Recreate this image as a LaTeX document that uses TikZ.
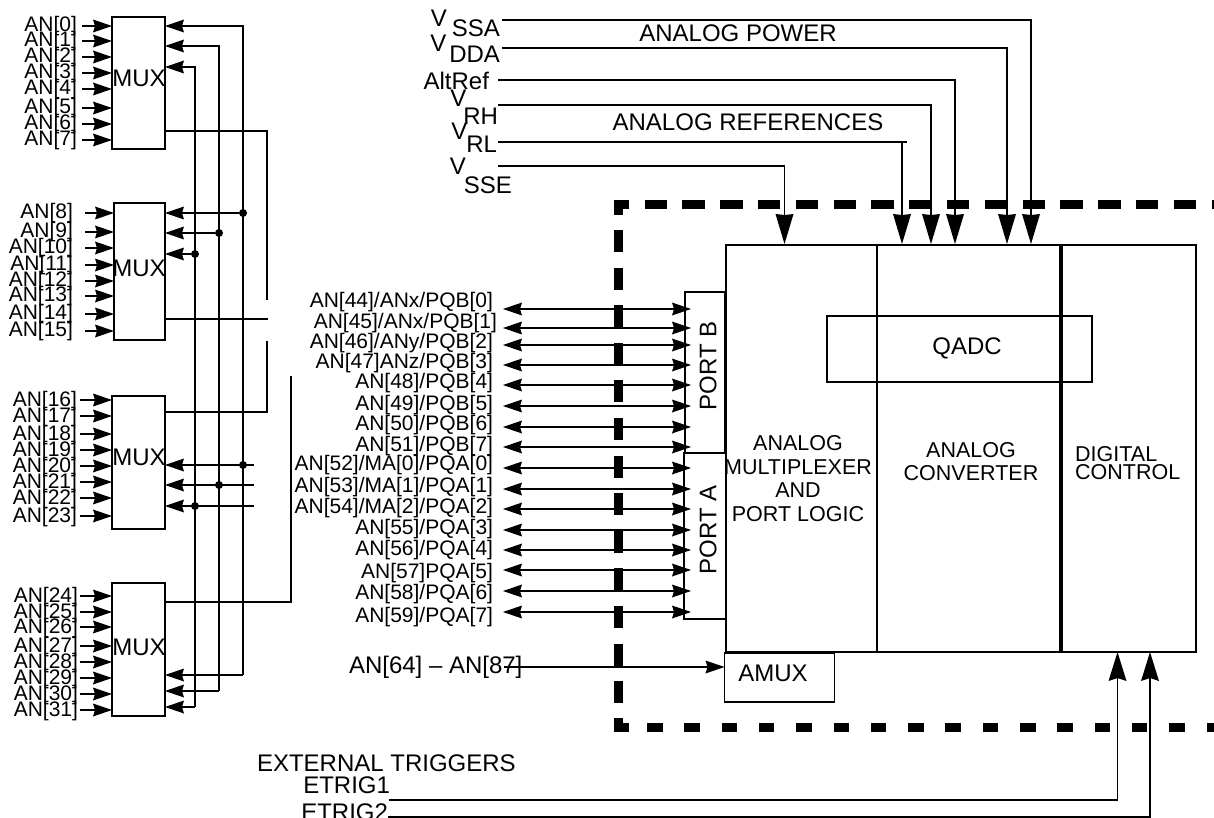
\documentclass[tikz,border=0pt]{standalone}
\usepackage{fontspec}
\setmainfont{Liberation Sans}
\usetikzlibrary{arrows.meta}
\tikzset{
  box/.style={draw,line width=1.7pt,rectangle,outer sep=0pt,inner sep=0pt,anchor=north west},
  wire/.style={draw,line width=1.6pt,line cap=butt},
  thinwire/.style={draw,line width=1.3pt},
  smallarrow/.style={wire,-{Stealth[length=19pt,width=13pt,inset=2pt,line width=0pt]}},
  dblarrow/.style={wire,{Stealth[length=19pt,width=13pt,inset=2pt,line width=0pt]}-{Stealth[length=19pt,width=13pt,inset=2pt,line width=0pt]}},
  downarrow/.style={thinwire,-{Stealth[length=30pt,width=18pt,inset=1pt,line width=0pt]}},
  uparrow/.style={thinwire,-{Stealth[length=29pt,width=18pt,inset=3pt,line width=0pt]}},
  lbl/.style={font=\fontsize{21}{22}\selectfont,inner sep=0pt,outer sep=0pt,anchor=east},
  muxlbl/.style={font=\fontsize{24}{26}\selectfont,inner sep=0pt},
  txt/.style={font=\fontsize{24}{26}\selectfont,inner sep=0pt,outer sep=0pt},
  blocktxt/.style={font=\fontsize{21.5}{23.7}\selectfont,inner sep=0pt,align=center},
  junction/.style={circle,fill=black,inner sep=0pt,minimum size=8pt},
  bdash/.style={draw,line width=8.7pt}
}
\begin{document}
\begin{tikzpicture}[x=1pt,y=-1pt]
\useasboundingbox (0,0) rectangle (1214,818);
% dashed boundary
\draw[bdash,dash pattern=on 22.4pt off 15.4pt] (644.5,204.5) -- (1230,204.5);
\fill (614,200) rectangle (629,209);
\fill (614,209) rectangle (623,215);
\draw[bdash,dash pattern=on 22pt off 15.6pt] (618.5,230) -- (618.5,718);
\fill (614,718) rectangle (623,732);
\fill (614,723) rectangle (629,732);
\draw[bdash,line width=8.5pt,dash pattern=on 15.5pt off 21.8pt] (647,727.5) -- (1230,727.5);
% MUX boxes
\node[box,minimum width=53pt,minimum height=132pt] (m1) at (112,17) {};
\node[box,minimum width=51pt,minimum height=137pt] (m2) at (114,203) {};
\node[box,minimum width=53pt,minimum height=133pt] (m3) at (112,396) {};
\node[box,minimum width=53pt,minimum height=133pt] (m4) at (112,583) {};
\node[muxlbl] (t1) at (139,78) {MUX};
\node[muxlbl] (t2) at (139,268) {MUX};
\node[muxlbl] (t3) at (139,457) {MUX};
\node[muxlbl] (t4) at (139,647) {MUX};
% inputs
\foreach \n/\y in {0/26,1/41,2/57,3/73,4/89,5/108,6/124,7/140}{
  \node[lbl] (an\n) at (77,\y) {AN[\n]};
  \coordinate (s\n) at (82,\y);
  \draw[smallarrow] (s\n) -- (s\n -| m1.west);
}
\foreach \n/\y in {8/213,9/232,10/248,11/265,12/281,13/296,14/314,15/331}{
  \node[lbl] (an\n) at (73,\y) {AN[\n]};
  \coordinate (s\n) at (85,\y);
  \draw[smallarrow] (s\n) -- (s\n -| m2.west);
}
\foreach \n/\y in {16/400,17/416,18/434,19/450,20/466,21/482,22/498,23/516}{
  \node[lbl] (an\n) at (77,\y+1) {AN[\n]};
  \coordinate (s\n) at (80,\y);
  \draw[smallarrow] (s\n) -- (s\n -| m3.west);
}
\foreach \n/\y in {24/596,25/612,26/627,27/646,28/662,29/678,30/694,31/710}{
  \node[lbl] (an\n) at (78,\y+1) {AN[\n]};
  \coordinate (s\n) at (80,\y);
  \draw[smallarrow] (s\n) -- (s\n -| m4.west);
}
% shared buses
\coordinate (b1) at (243,26);
\coordinate (b2) at (219,46);
\coordinate (b3) at (195,67);
\coordinate (b1e) at (243,675);
\coordinate (b2e) at (219,691);
\coordinate (b3e) at (195,707);
\draw[smallarrow] (b1e) |- (b1 -| m1.east);
\draw[smallarrow] (b2e) |- (b2 -| m1.east);
\draw[smallarrow] (b3e) |- (b3 -| m1.east);
\draw[smallarrow] (b1e) -- (b1e -| m4.east);
\draw[smallarrow] (b2e) -- (b2e -| m4.east);
\draw[smallarrow] (b3e) -- (b3e -| m4.east);
\foreach \k/\x/\ya/\yb in {1/243/213/465,2/219/233/485,3/195/254/506}{
  \node[junction] (ja\k) at (\x,\ya) {};
  \node[junction] (jb\k) at (\x,\yb) {};
  \coordinate (e\k) at (254,\yb);
  \draw[smallarrow] (ja\k) -- (ja\k -| m2.east);
  \draw[smallarrow] (e\k) -- (e\k -| m3.east);
}
% mux outputs
\coordinate (o1) at (267,300);
\coordinate (o2) at (268,319);
\coordinate (o3a) at (267,341);
\coordinate (o4) at (291,376);
\draw[wire] (m1.east |- 0,131) -| (o1);
\draw[wire] (m2.east |- o2) -- (o2);
\draw[wire] (m3.east |- 0,412) -| (o3a);
\draw[wire] (m4.east |- 0,602) -| (o4);
% ports
\node[box,minimum width=40pt,minimum height=161pt] (pb) at (685,292) {};
\node[box,minimum width=42pt,minimum height=166pt] (pa) at (684,453) {};
\node[txt,rotate=90] (pbt) at (708,366) {PORT B};
\node[txt,rotate=90] (pat) at (708,530) {PORT A};
% port labels
\foreach \k/\txt/\r/\ly/\ay in {
 a/{AN[44]/ANx/PQB[0]}/493/302/309,
 b/{AN[45]/ANx/PQB[1]}/497/323/328,
 c/{AN[46]/ANy/PQB[2]}/493/343/345,
 d/{AN[47]ANz/PQB[3]}/493/363/365,
 e/{AN[48]/PQB[4]}/493/383/385,
 f/{AN[49]/PQB[5]}/493/405/406,
 g/{AN[50]/PQB[6]}/493/425/427,
 h/{AN[51]/PQB[7]}/493/446/447,
 i/{AN[52]/MA[0]/PQA[0]}/493/465/468,
 j/{AN[53]/MA[1]/PQA[1]}/493/487/489,
 k/{AN[54]/MA[2]/PQA[2]}/493/508/509,
 l/{AN[55]/PQA[3]}/493/529/530,
 m/{AN[56]/PQA[4]}/493/550/550,
 n/{AN[57]PQA[5]}/493/573/570,
 o/{AN[58]/PQA[6]}/493/594/591,
 p/{AN[59]/PQA[7]}/493/617/612}{
  \node[lbl] (pl\k) at (\r,\ly) {\txt};
  \coordinate (pl\k s) at (503,\ay);
  \coordinate (pl\k e) at (691,\ay);
  \draw[dblarrow] (pl\k s) -- (pl\k e);
}
% main block
\node[box,minimum width=470pt,minimum height=407pt] (main) at (726,245) {};
\draw[line width=1.6pt] (main.north west) ++(151,0) coordinate (d1t) -- (d1t |- main.south);
\draw[line width=3.5pt] (main.north west) ++(335,0) coordinate (d2t) -- (d2t |- main.south);
\node[box,minimum width=265pt,minimum height=66pt] (qadc) at (827,316) {};
\node[txt] (qadct) at (967,348) {QADC};
\node[blocktxt] (tmux) at (798,478.5) {ANALOG\\MULTIPLEXER\\AND\\PORT LOGIC};
\node[blocktxt] (tconv) at (971,461.5) {ANALOG\\CONVERTER};
\node[blocktxt,font=\fontsize{21.5}{18.5}\selectfont,align=left,anchor=west] (tdig) at (1075,463) {DIGITAL\\CONTROL};
\node[box,minimum width=110pt,minimum height=49pt] (amux) at (724.5,653) {};
\node[txt] (amuxt) at (773,673) {AMUX};
\node[txt,anchor=west] (aninp) at (349,667) {AN[64] – AN[87]};
\coordinate (ains) at (504,667);
\draw[smallarrow] (ains) -- (ains -| amux.west);
% supply inputs
\node[txt,anchor=base east] (vssa) at (500,27) {V\hspace{5pt}\raisebox{-10pt}{SSA}};
\node[txt,anchor=base east] (vdda) at (500,52) {V\hspace{3pt}\raisebox{-11pt}{DDA}};
\node[txt,anchor=east] (altref) at (489,81) {AltRef};
\node[txt,anchor=base east] (vrh) at (498,107) {V\hspace{-3pt}\raisebox{-18pt}{RH}};
\node[txt,anchor=base east] (vrl) at (497,140) {V\hspace{-1pt}\raisebox{-13pt}{RL}};
\node[txt,anchor=base east] (vsse) at (512,175) {V\hspace{-2pt}\raisebox{-19pt}{SSE}};
\node[txt] (apow) at (738,33) {ANALOG POWER};
\node[txt] (aref) at (748,122) {ANALOG REFERENCES};
\foreach \k/\xa/\y/\xb in {ssa/502/20/1031,dda/502/48/1007,alt/498/80/955,rh/498/105/931,rl/498/142/902,se/498/166/784.5}{
  \coordinate (\k s) at (\xa,\y);
  \coordinate (\k t) at (\xb,244);
  \draw[downarrow] (\k s) -| (\k t);
}
\draw[thinwire] (rlt |- rls) -- ++(4.5,0);
% triggers
\node[txt,anchor=west] (ext) at (257,763) {EXTERNAL TRIGGERS};
\node[txt,anchor=east] (et1) at (390,785) {ETRIG1};
\node[txt,anchor=east] (et2) at (388,812) {ETRIG2};
\coordinate (t1s) at (389,800);
\coordinate (t2s) at (388,817);
\coordinate (t1t) at (1117.5,652);
\coordinate (t2t) at (1150,652);
\draw[uparrow] (t1s) -| (t1t);
\draw[uparrow] (t2s) -| (t2t);
\end{tikzpicture}
\end{document}
